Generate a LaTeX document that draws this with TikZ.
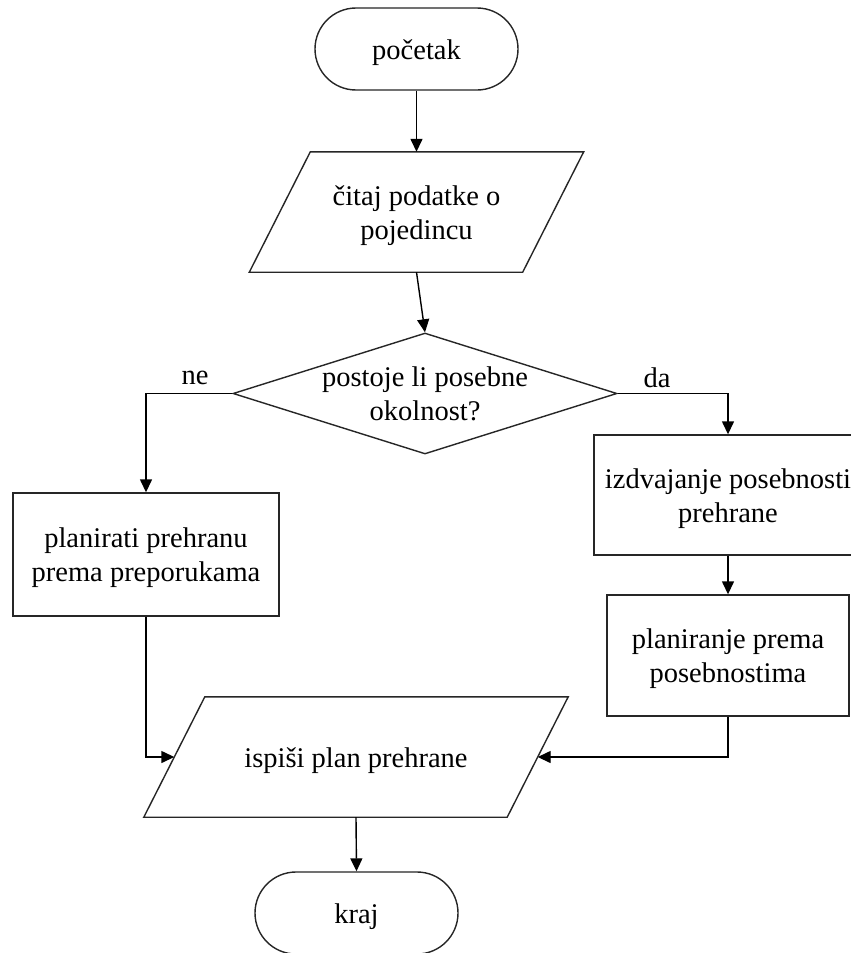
\documentclass[tikz,border=0pt]{standalone}
\usepackage{fontspec}
\setmainfont{Liberation Serif}
\usetikzlibrary{shapes.geometric,arrows.meta}

% raises the first line so the text sits a little lower in its shape
\newcommand\linestrut{\rule{0pt}{27pt}}

\tikzset{
  every node/.style={font=\fontsize{28.5}{34}\selectfont, inner sep=0pt},
  outline/.style={draw=black!85, line width=1.4pt},
  terminal/.style={outline, rectangle, rounded corners=41pt,
    minimum width=203pt, minimum height=82pt},
  % body of an input/output box: its west and east anchors lie
  % on the middle of the slanted sides drawn with slantframe
  iobox/.style={rectangle, minimum height=120pt, align=center},
  slantframe/.style={outline, line join=miter},
  process/.style={outline, rectangle, align=center},
  decision/.style={outline, diamond, minimum width=384pt, minimum height=121pt},
  flow/.style={draw=black, line width=1.4pt, -{Triangle[length=13pt,width=12pt]}},
  branch/.style={font=\fontsize{28.5}{34}\selectfont}
}

\begin{document}
\begin{tikzpicture}[x=1pt, y=-1pt]
  \useasboundingbox (0,0) rectangle (851,953);
  \clip (0,0) rectangle (851,953);
  \fill[white] (0,0) rectangle (851,953);

  % start and input
  \node[terminal] (start) at (416.5,49) {\linestrut početak};
  \node[iobox, minimum width=273pt] (read) at (416.5,212) {\linestrut čitaj podatke o\\pojedincu};
  \draw[slantframe] ([xshift=-30.5pt]read.south west) -- ([xshift=30.5pt]read.north west)
    -- ([xshift=30.5pt]read.north east) -- ([xshift=-30.5pt]read.south east) -- cycle;

  % decision
  \node[decision] (q) at (425,393.5) {};
  \node[align=center] (qtext) at (425,394) {postoje li posebne\\okolnost?};

  % branches
  \node[process, minimum width=266pt, minimum height=123pt] (plan) at (146,554.5)
    {\linestrut planirati prehranu\\prema preporukama};
  \node[process, minimum width=268pt, minimum height=120pt] (extract) at (728,495)
    {\linestrut izdvajanje posebnosti\\prehrane};
  \node[process, minimum width=242pt, minimum height=121pt] (special) at (728,655.5)
    {\linestrut planiranje prema\\posebnostima};

  % output and end
  \node[iobox, minimum width=363pt] (out) at (356,757) {\linestrut ispiši plan prehrane};
  \draw[slantframe] ([xshift=-30.5pt]out.south west) -- ([xshift=30.5pt]out.north west)
    -- ([xshift=30.5pt]out.north east) -- ([xshift=-30.5pt]out.south east) -- cycle;
  \node[terminal] (end) at (356.5,913) {\linestrut kraj};

  % branch labels
  \node[branch] (no) at (195,378) {ne};
  \node[branch] (yes) at (657,378) {da};

  % connectors
  \draw[flow] (start.south) -- (read.north);
  \draw[flow] (read.south) -- (q.north);
  \draw[flow] (q.west) -| (plan.north);
  \draw[flow] (q.east) -| (extract.north);
  \draw[flow] (extract.south) -- (special.north);
  \draw[flow] (plan.south) |- (out.west);
  \draw[flow] (special.south) |- (out.east);
  \draw[flow] (out.south) -- (end.north);
\end{tikzpicture}
\end{document}
